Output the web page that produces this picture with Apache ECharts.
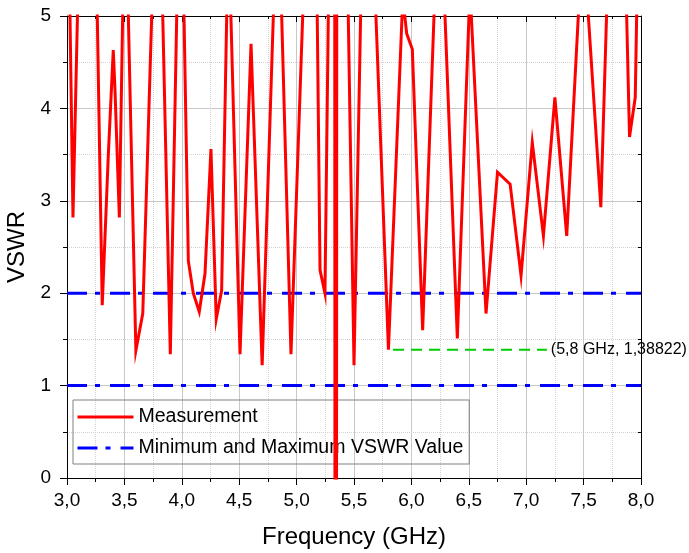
<!DOCTYPE html>
<html><head><meta charset="utf-8">
<script src="https://cdn.jsdelivr.net/npm/echarts@6/dist/echarts.min.js"></script>
<style>html,body{margin:0;padding:0;background:#fff}#c{width:689px;height:553px}</style>
</head><body><div id="c"></div>
<script>
// Measured VSWR curve (values above 5 / below 0 are off-scale and clipped)
const freq = [3.000,3.052,3.109,3.250,3.307,3.360,3.403,3.418,3.456,3.498,3.516,3.600,3.660,3.762,3.816,3.900,3.971,4.005,4.057,4.100,4.152,4.202,4.254,4.300,4.347,4.406,4.415,4.507,4.603,4.700,4.823,4.848,4.951,5.081,5.171,5.204,5.247,5.286,5.332,5.341,5.350,5.437,5.500,5.573,5.661,5.800,5.925,5.959,6.008,6.098,6.226,6.262,6.400,6.510,6.650,6.750,6.860,6.955,7.053,7.150,7.250,7.353,7.493,7.650,7.724,7.856,7.900,7.950,7.976,8.000];
const vswr = [7.2,2.82,6,6,1.87,3.50,4.63,4.20,2.82,6,6,1.38,1.78,6,6,1.34,6,6,2.35,2.00,1.80,2.21,3.56,1.72,2.03,6,6,1.34,4.70,1.22,6,6,1.34,6,6,2.25,2.00,6,6,-20,6,6,1.22,6,6,1.38822,5.2,4.81,4.64,1.60,6,6,1.51,5.3,1.78,3.31,3.18,2.19,3.63,2.62,4.12,2.62,5.92,2.93,6,6,3.69,4.12,6,7.5];
// Min / max VSWR limit lines
const limitFreq = [3, 8];
const limitMin = [1, 1];
const limitMax = [2, 2];
// Marker at 5.8 GHz
const markerFreq = [5.84, 7.18];
const markerValue = [1.38822, 1.38822];
const markerText = '(5,8 GHz, 1,38822)';
const seriesNames = ['Measurement', 'Minimum and Maximum VSWR Value'];
const xName = 'Frequency (GHz)';
const yName = 'VSWR';

const FONT = '"Liberation Sans", Arial, sans-serif';
const chart = echarts.init(document.getElementById('c'), null, {renderer: 'canvas'});
const pairs = (xs, ys) => xs.map((x, i) => [x, ys[i]]);
const commaFmt = v => v.toFixed(1).replace('.', ',');

const mirrorX = {
  type: 'value', min: 3, max: 8, interval: 0.5, position: 'top',
  axisLine: {show: true, onZero: false, lineStyle: {color: '#000', width: 1}},
  axisTick: {show: true, inside: true, length: 6, lineStyle: {color: '#000'}},
  minorTick: {show: true, splitNumber: 2, length: 3, lineStyle: {color: '#000'}},
  axisLabel: {show: false}, splitLine: {show: false}, minorSplitLine: {show: false}
};
const mirrorY = {
  type: 'value', min: 0, max: 5, interval: 1, position: 'right',
  axisLine: {show: true, onZero: false, lineStyle: {color: '#000', width: 1}},
  axisTick: {show: true, inside: true, length: 4, lineStyle: {color: '#000'}},
  minorTick: {show: true, splitNumber: 2, length: 3, lineStyle: {color: '#000'}},
  axisLabel: {show: false}, splitLine: {show: false}, minorSplitLine: {show: false}
};

chart.setOption({
  animation: false,
  backgroundColor: '#fff',
  grid: {left: 67, right: 48, top: 16, bottom: 75, show: false, outerBoundsMode: 'none', containLabel: false},
  legend: {
    show: true, data: seriesNames, orient: 'vertical', left: 73, top: 400,
    padding: [7, 6, 6, 3], itemWidth: 56, itemHeight: 14, itemGap: 11,
    borderColor: '#808080', borderWidth: 1, backgroundColor: 'transparent',
    selectedMode: false,
    itemStyle: {opacity: 0, color: 'transparent', borderColor: 'transparent', borderWidth: 0},
    lineStyle: {width: 3},
    textStyle: {fontSize: 19.5, fontFamily: FONT, color: '#000'}
  },
  xAxis: [{
    type: 'value', min: 3, max: 8, interval: 0.5, position: 'bottom',
    name: xName, nameLocation: 'middle', nameGap: 47,
    nameTextStyle: {fontSize: 24, fontFamily: FONT, color: '#000'},
    axisLine: {show: true, onZero: false, lineStyle: {color: '#000', width: 1}},
    axisTick: {show: true, inside: false, length: 7, lineStyle: {color: '#000'}},
    minorTick: {show: true, splitNumber: 2, length: 4, lineStyle: {color: '#000'}},
    axisLabel: {fontSize: 19, fontFamily: FONT, color: '#000', margin: 13, formatter: commaFmt},
    splitLine: {show: true, lineStyle: {color: '#c8c8c8', width: 1}},
    minorSplitLine: {show: true, lineStyle: {color: '#d2d2d2', width: 1, type: 'dotted'}}
  }, mirrorX],
  yAxis: [{
    type: 'value', min: 0, max: 5, interval: 1, position: 'left',
    name: yName, nameLocation: 'middle', nameGap: 26, nameRotate: 90,
    nameTextStyle: {fontSize: 24, fontFamily: FONT, color: '#000'},
    axisLine: {show: true, onZero: false, lineStyle: {color: '#000', width: 1}},
    axisTick: {show: true, inside: false, length: 7, lineStyle: {color: '#000'}},
    minorTick: {show: true, splitNumber: 2, length: 4, lineStyle: {color: '#000'}},
    axisLabel: {fontSize: 19, fontFamily: FONT, color: '#000', margin: 16},
    splitLine: {show: true, lineStyle: {color: '#c8c8c8', width: 1}},
    minorSplitLine: {show: true, lineStyle: {color: '#d2d2d2', width: 1, type: 'dotted'}}
  }, mirrorY],
  series: [
    {
      name: seriesNames[1], type: 'line', data: pairs(limitFreq, limitMax),
      symbol: 'none', z: 3,
      lineStyle: {color: '#0000ff', width: 3, type: [20, 8, 5, 10]}, itemStyle: {color: '#0000ff'}
    },
    {
      name: seriesNames[1], type: 'line', data: pairs(limitFreq, limitMin),
      symbol: 'none', z: 3,
      lineStyle: {color: '#0000ff', width: 3, type: [20, 8, 5, 10]}, itemStyle: {color: '#0000ff'}
    },
    {
      name: 'marker', type: 'line', data: pairs(markerFreq, markerValue),
      symbol: 'none', z: 3,
      lineStyle: {color: '#00cc00', width: 2, type: [11, 7]}, itemStyle: {color: '#00cc00'},
      endLabel: {show: true, formatter: markerText, distance: 4, fontSize: 16, fontFamily: FONT, color: '#000'}
    },
    {
      name: seriesNames[0], type: 'line', data: pairs(freq, vswr),
      symbol: 'none', clip: true, z: 4,
      lineStyle: {color: '#ff0000', width: 3, join: 'miter'}, itemStyle: {color: '#ff0000'}
    }
  ]
});
</script>
</body></html>
